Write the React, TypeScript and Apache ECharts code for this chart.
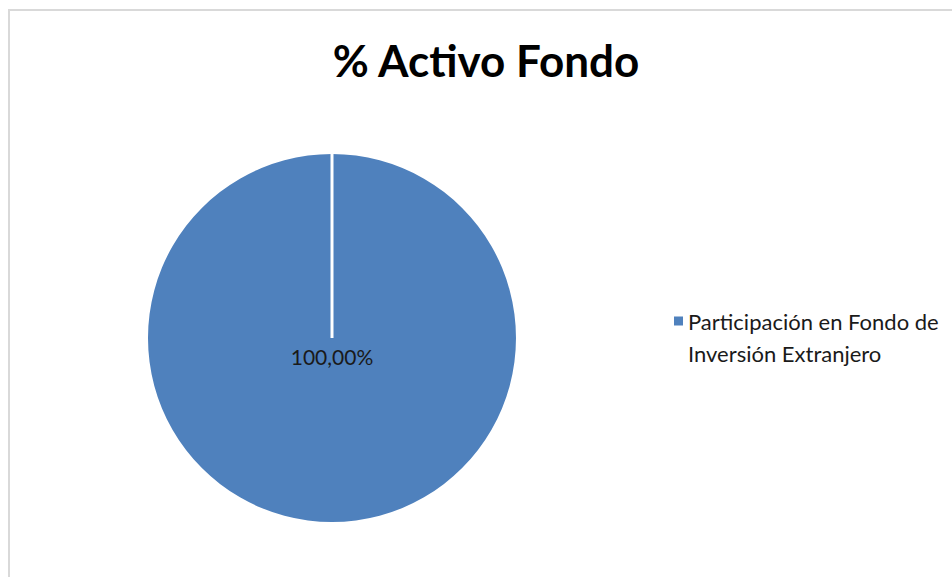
import React, { useEffect, useRef } from "react";
import * as echarts from "echarts";

const titleText = "% Activo Fondo";
const categories = ["Participación en Fondo de Inversión Extranjero"];
const legendLines = ["Participación en Fondo de", "Inversión Extranjero"];
const values = [100];
const valueLabels = ["100,00%"];

export default function App() {
  const ref = useRef<HTMLDivElement>(null);
  useEffect(() => {
    document.body.style.margin = "0";
    const chart = echarts.init(ref.current!, undefined, { renderer: "svg" });
    const cx = 332, cy = 338, r = 184;
    chart.setOption({
      animation: false,
      backgroundColor: "#ffffff",
      title: {
        text: titleText,
        left: 481,
        textAlign: "center",
        top: 33,
        textStyle: { fontFamily: "Lato", fontWeight: "bold", fontSize: 44, color: "#000000" },
      },
      legend: {
        orient: "vertical",
        left: 669,
        top: 300,
        itemWidth: 9,
        itemHeight: 41,
        icon: "path://M0,0L9,0L9,9L0,9Z M0,41",
        itemGap: 10,
        data: categories,
        formatter: () => legendLines.join("\n"),
        textStyle: {
          fontFamily: "Lato",
          fontSize: 22,
          color: "#1a1a1a",
          lineHeight: 32,
        },
      },
      graphic: [
        {
          type: "rect",
          shape: { x: 9, y: 10, width: 960, height: 600 },
          style: { fill: "none", stroke: "#d9d9d9", lineWidth: 2 },
          silent: true,
        },
        {
          type: "line",
          shape: { x1: cx, y1: cy - r, x2: cx, y2: cy },
          style: { stroke: "#ffffff", lineWidth: 3 },
          z: 100,
          silent: true,
        },
      ],
      series: [
        {
          type: "pie",
          center: [cx, cy],
          radius: [0, r],
          startAngle: 90,
          clockwise: true,
          data: categories.map((c, i) => ({ name: c, value: values[i] })),
          itemStyle: { color: "#4f81bd" },
          label: {
            show: true,
            position: "center",
            formatter: (p: any) => valueLabels[p.dataIndex],
            fontFamily: "Lato",
            fontSize: 21,
            color: "#1a1a1a",
          },
          labelLayout: { dy: 18 },
          labelLine: { show: false },
          emphasis: { disabled: true },
        },
      ],
    });
    return () => chart.dispose();
  }, []);
  return <div ref={ref} style={{ width: 952, height: 577 }} />;
}
